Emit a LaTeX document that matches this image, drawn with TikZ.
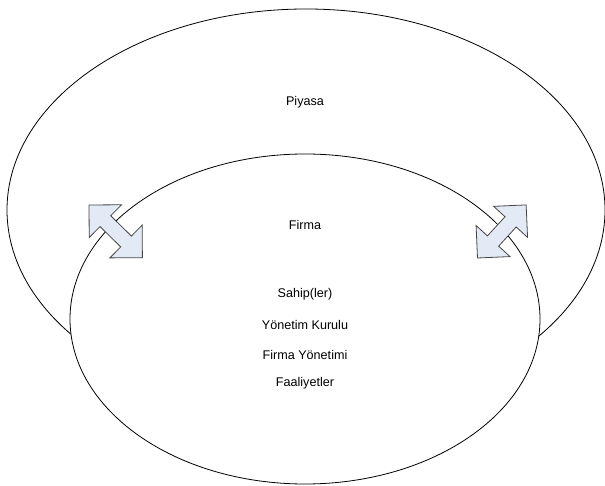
\documentclass[tikz,border=0pt]{standalone}
\usepackage{fontspec}
\setmainfont{Liberation Sans}
\usetikzlibrary{shapes.geometric}
\definecolor{arrowfill}{RGB}{228,234,245}
\definecolor{arrowline}{RGB}{70,70,70}
\tikzset{
  oval/.style={ellipse, draw=black, line width=0.8pt, inner sep=0pt, fill=white},
  lbl/.style={font=\fontsize{12.6}{15}\selectfont, inner sep=0pt, anchor=center},
  blockarrow/.style={draw=arrowline, fill=arrowfill, line width=0.8pt, line join=miter},
}
\begin{document}
\begin{tikzpicture}[x=1pt,y=-1pt]
\useasboundingbox (0,0) rectangle (605,486);
\node[oval, minimum width=598pt, minimum height=402pt] (piyasa) at (306,210) {};
\node[oval, minimum width=470pt, minimum height=330pt] (firma) at (305,319) {};
% left double arrow
\coordinate (la) at (89,205);
\begin{scope}[shift={(la)}, rotate=-44.6]
  \draw[blockarrow] (0,0) -- (23,23) -- (23,7.6) -- (52,7.6) -- (52,23) -- (75,0)
    -- (52,-23) -- (52,-7.6) -- (23,-7.6) -- (23,-23) -- cycle;
\end{scope}
% right double arrow
\coordinate (ra) at (477.5,258);
\begin{scope}[shift={(ra)}, rotate=47.5]
  \draw[blockarrow] (0,0) -- (23,23) -- (23,7.6) -- (49,7.6) -- (49,23) -- (72,0)
    -- (49,-23) -- (49,-7.6) -- (23,-7.6) -- (23,-23) -- cycle;
\end{scope}
\node[lbl] (tpiyasa) at (305,102) {Piyasa};
\node[lbl] (tfirma) at (305,225) {Firma};
\node[lbl] (tsahip) at (305,294) {Sahip(ler)};
\node[lbl] (tyk) at (305,324.5) {Yönetim Kurulu};
\node[lbl] (tfy) at (305,354.5) {Firma Yönetimi};
\node[lbl] (tfa) at (305,383.5) {Faaliyetler};
\end{tikzpicture}
\end{document}
